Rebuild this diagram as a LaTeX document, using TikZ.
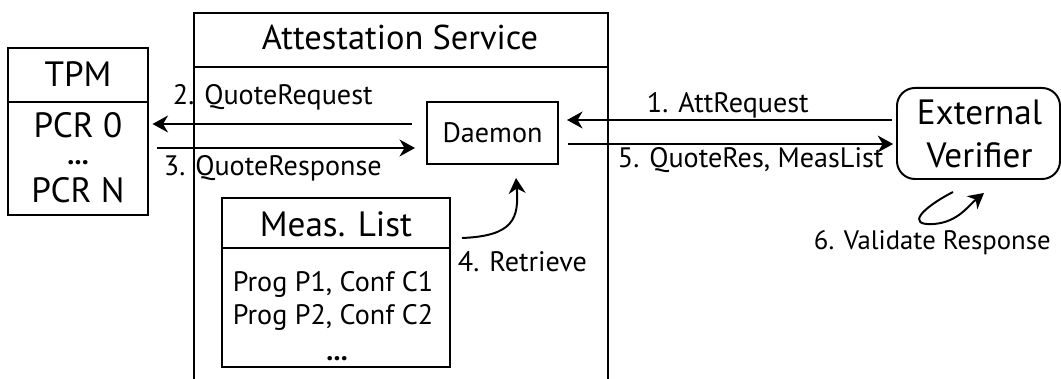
\documentclass[tikz,border=0pt]{standalone}
\usepackage{fontspec}
\setmainfont{PT Sans}
\usetikzlibrary{arrows.meta,calc,positioning}

\begin{document}
\begin{tikzpicture}[x=0.025cm, y=-0.025cm, line width=1.4pt,
    >={Stealth[length=11pt, width=12pt, inset=3.5pt]},
    box/.style={draw, inner sep=0pt},
    titletext/.style={inner sep=0pt, anchor=base, font=\fontsize{25}{30}\selectfont},
    labeltext/.style={inner sep=0pt, anchor=base west, font=\fontsize{20}{24}\selectfont},
    listtext/.style={inner sep=0pt, anchor=base, font=\fontsize{20}{24}\selectfont}]
    \useasboundingbox (0,0) rectangle (1061,379);

    % attestation service frame, open at the bottom
    \draw (194,379) -- (194,13) -- (608,13) -- (608,379);
    \draw (194,67) -- (608,67);
    \node[titletext, font=\fontsize{24.5}{30}\selectfont] (att) at (400,50) {Attestation Service};

    % TPM and its registers
    \node[box, minimum width=3.5cm, minimum height=4.175cm] (tpm) at (78,131.5) {};
    \draw (tpm.west |- 0,102) -- (tpm.east |- 0,102);
    \node[titletext] (tpmname) at (78,87) {TPM};
    \node[titletext] (pcr0) at (78,138) {PCR 0};
    \node[listtext] (pcrdots) at (78,165) {\textbf{...}};
    \node[titletext] (pcrn) at (78,203) {PCR N};

    % daemon inside the service
    \node[box, minimum width=3.275cm, minimum height=1.55cm,
          font=\fontsize{20}{24}\selectfont] (daemon) at (492.5,133) {Daemon};

    % measurement list
    \node[box, minimum width=5.7cm, minimum height=4.225cm] (meas) at (336,282.5) {};
    \draw (meas.west |- 0,248) -- (meas.east |- 0,248);
    \node[titletext] (measname) at (336,237) {Meas. List};
    \node[listtext] (entry1) at (333,292) {Prog P1, Conf C1};
    \node[listtext] (entry2) at (333,325) {Prog P2, Conf C2};
    \node[listtext] (entrydots) at (337,361) {\textbf{...}};

    % external verifier
    \node[box, rounded corners=0.45cm, minimum width=4.075cm, minimum height=2.275cm] (ver) at (978.5,133.5) {};
    \node[titletext] (ver1) at (979.5,125) {External};
    \node[titletext] (ver2) at (979.5,168) {Verifier};

    % messages
    \draw[->, shorten <=10pt, shorten >=2.5pt] (daemon.west |- 0,124) -- (tpm.east |- 0,124);
    \draw[->, shorten <=5.7pt, shorten >=7.8pt] (tpm.east |- 0,148) -- (daemon.west |- 0,148);
    \draw[->, shorten <=2.8pt, shorten >=5.7pt] (ver.west |- 0,120) -- (daemon.east |- 0,120);
    \draw[->, shorten <=6.4pt, shorten >=2pt] (daemon.east |- 0,144) -- (ver.west |- 0,144);

    \node[labeltext] (msg2) at (172,105) {2. QuoteRequest};
    \node[labeltext] (msg3) at (163,176) {3. QuoteResponse};
    \node[labeltext] (msg1) at (646,113) {1. AttRequest};
    \node[labeltext] (msg5) at (617,168) {5. QuoteRes, MeasList};

    % retrieve the list
    \coordinate (retfrom) at (462,238);
    \coordinate (retto) at (516,178);
    \draw[->] (retfrom) .. controls (514,236) and (519,218) .. (retto);
    \node[labeltext] (msg4) at (457,272) {4. Retrieve};

    % verifier checks the response
    \coordinate (valfrom) at (953,192);
    \coordinate (valto) at (984,193);
    \draw[->] (valfrom) .. controls (922,208) and (905,226) .. (934,224)
        .. controls (958,222) and (968,206) .. (valto);
    \node[labeltext, font=\fontsize{19}{24}\selectfont] (msg6) at (813,250) {6. Validate Response};
\end{tikzpicture}
\end{document}
